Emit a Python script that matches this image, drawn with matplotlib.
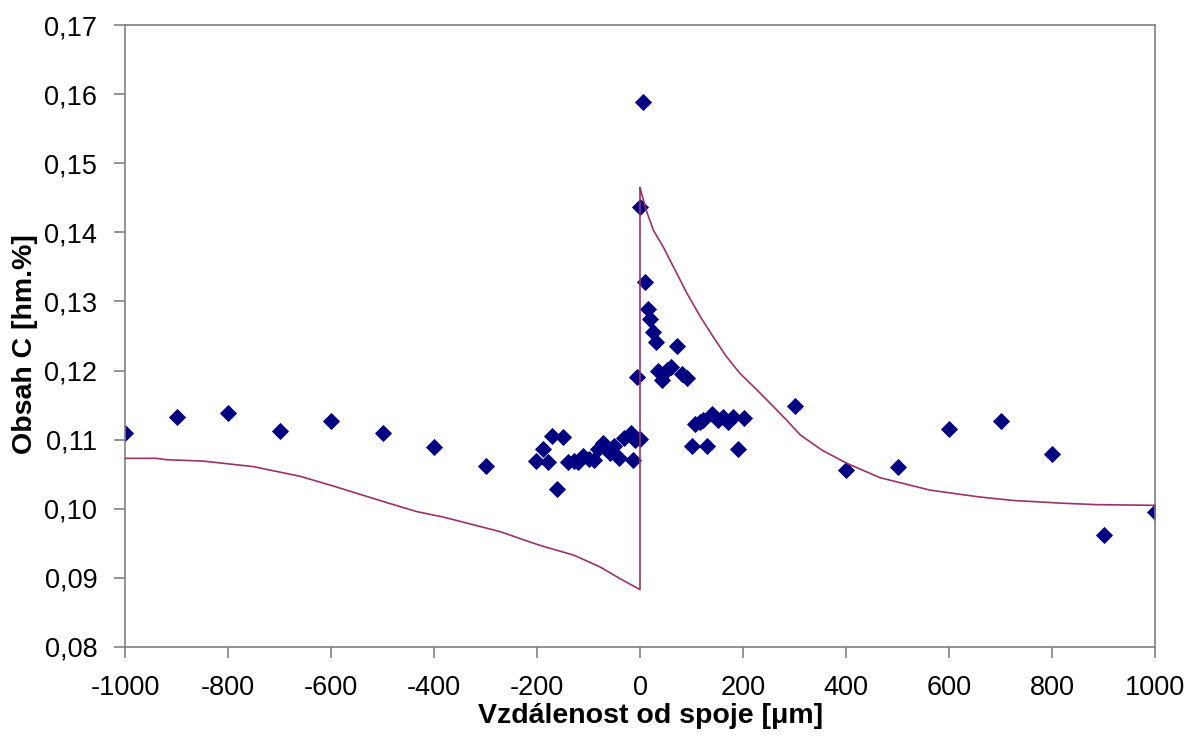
import matplotlib
matplotlib.use("Agg")
import matplotlib.pyplot as plt

# Measured carbon content
x_meas = [-1000, -900, -800, -700, -600, -500, -400, -300,
          -201, -189, -178, -170, -161, -149, -139, -129, -120, -110, -100, -89,
          -81, -71, -62, -58, -50, -40, -31, -18, -14, -10, 0, -6,
          0, 6, 10, 15, 19, 26, 31, 34, 42, 52, 61, 71, 81, 91,
          100, 107, 117, 123, 131, 140, 152, 162, 171, 181, 190, 201,
          301, 400, 500, 600, 700, 800, 900, 1000]
c_meas = [0.1109, 0.1133, 0.1139, 0.1113, 0.1127, 0.1110, 0.1090, 0.1062,
          0.1069, 0.1086, 0.1068, 0.1106, 0.1029, 0.1104, 0.1068, 0.1069, 0.1068, 0.1076, 0.1072, 0.1070,
          0.1087, 0.1095, 0.1085, 0.1081, 0.1091, 0.1074, 0.1103, 0.1110, 0.1070, 0.1100, 0.1101, 0.1191,
          0.1436, 0.1589, 0.1328, 0.1289, 0.1274, 0.1256, 0.1242, 0.1199, 0.1186, 0.1201, 0.1205, 0.1236, 0.1195, 0.1189,
          0.1091, 0.1123, 0.1126, 0.1129, 0.1091, 0.1137, 0.1129, 0.1133, 0.1126, 0.1133, 0.1087, 0.1132,
          0.1148, 0.1056, 0.1060, 0.1116, 0.1127, 0.1079, 0.0962, 0.0996]

# Calculated carbon profile
x_calc = [-1000, -939, -919, -848, -751, -660, -596, -492, -434, -382,
          -272, -214, -194, -129, -78, -39, 0,
          0, 3, 13, 26, 45, 65, 91, 117, 142, 168, 194, 227, 259, 285, 311,
          353, 401, 466, 563, 660, 725, 822, 886, 1000]
c_calc = [0.1073, 0.1073, 0.1071, 0.1069, 0.1061, 0.1047, 0.1033, 0.1009, 0.0996, 0.0988,
          0.0967, 0.0952, 0.0947, 0.0933, 0.0916, 0.0899, 0.0883,
          0.1465, 0.1456, 0.1430, 0.1403, 0.1379, 0.1350, 0.1312, 0.1278, 0.1249, 0.1220, 0.1196, 0.1172, 0.1148, 0.1128, 0.1107,
          0.1085, 0.1066, 0.1045, 0.1027, 0.1017, 0.1012, 0.1008, 0.1006, 0.1005]

x_ticks = list(range(-1000, 1001, 200))
y_ticks = [0.08, 0.09, 0.10, 0.11, 0.12, 0.13, 0.14, 0.15, 0.16, 0.17]

plt.rcParams['font.family'] = ['Liberation Sans', 'DejaVu Sans']

W, H = 1186, 738
fig = plt.figure(figsize=(W / 100, H / 100), dpi=100)
ax = fig.add_axes([125 / W, 1 - 647 / H, 1030 / W, 622 / H])

ax.plot(x_meas, c_meas, linestyle='none', marker='D', markersize=7.8,
        color='#000080', markeredgecolor='#000080', markeredgewidth=0.6, zorder=2)
ax.plot(x_calc, c_calc, color='#993366', linewidth=1.2, zorder=3)

ax.set_xlim(-1000, 1000)
ax.set_ylim(0.08, 0.17)
ax.set_xticks(x_ticks)
ax.set_xticklabels([str(v) for v in x_ticks])
ax.set_yticks(y_ticks)
ax.set_yticklabels([f"{v:.2f}".replace('.', ',') for v in y_ticks])

for s in ax.spines.values():
    s.set_color('#808080')
    s.set_linewidth(1.2)
ax.tick_params(direction='out', length=8, width=1.2, color='#808080',
               labelsize=19.5, pad=12)

fig.text(651 / W, 1 - 723 / H, 'Vzdálenost od spoje [μm]', fontsize=20.5,
         fontweight='bold', ha='center', va='baseline')
fig.text(12 / W, 1 - 344 / H, 'Obsah C [hm.%]', fontsize=20.5,
         fontweight='bold', ha='left', va='center', rotation=90)

fig.savefig('out.png', dpi=100)
